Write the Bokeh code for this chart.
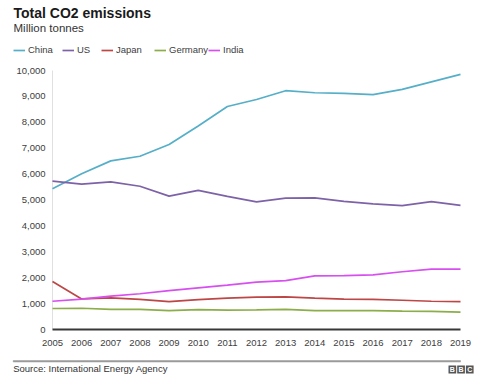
from bokeh.plotting import figure
from bokeh.models import Range1d, Label, Legend, LegendItem, BoxAnnotation
from bokeh.core.properties import value
from bokeh.embed import file_html
from bokeh.resources import INLINE

years = list(range(2005, 2020))
china = [5430, 6010, 6510, 6690, 7140, 7860, 8610, 8880, 9220, 9140, 9120, 9070, 9270, 9560, 9850]
us = [5730, 5610, 5700, 5530, 5150, 5370, 5140, 4930, 5070, 5080, 4950, 4850, 4780, 4940, 4790]
japan = [1850, 1180, 1220, 1160, 1080, 1150, 1210, 1250, 1260, 1210, 1170, 1160, 1130, 1090, 1080]
germany = [810, 820, 780, 780, 730, 770, 750, 760, 780, 730, 730, 730, 710, 700, 670]
india = [1090, 1170, 1290, 1380, 1500, 1610, 1710, 1830, 1890, 2070, 2080, 2110, 2230, 2330, 2330]
y_ticks = [0, 1000, 2000, 3000, 4000, 5000, 6000, 7000, 8000, 9000, 10000]
x_tick_labels = [str(y) for y in years]
y_tick_labels = ["{:,}".format(v) for v in y_ticks]

names = ["China", "US", "Japan", "Germany", "India"]
values = [china, us, japan, germany, india]
colors = ["#55afc8", "#7d62a8", "#bd4746", "#8cae4a", "#d84ff0"]

FONT = "Liberation Sans"
W, H = 490, 383

# pixel anchors of the plotting area (layout only)
X0_PX, X1_PX = 52.0, 460.0      # first / last year
Y0_PX, Y1_PX = 329.0, 70.0      # value 0 / value 10,000 (from top)
kx = (X1_PX - X0_PX) / (years[-1] - years[0])
ky = (Y0_PX - Y1_PX) / (y_ticks[-1] - y_ticks[0])
x_range = Range1d(years[0] - X0_PX / kx, years[-1] + (W - X1_PX) / kx)
y_range = Range1d(y_ticks[0] - (H - Y0_PX) / ky, y_ticks[-1] + Y1_PX / ky)

p = figure(width=W, height=H, output_backend="svg", toolbar_location=None,
           title=None, x_axis_type=None, y_axis_type=None,
           x_range=x_range, y_range=y_range,
           min_border=0, min_border_left=0, min_border_right=0,
           min_border_top=0, min_border_bottom=0)
p.outline_line_color = None
p.grid.visible = False
p.background_fill_color = "white"
p.border_fill_color = "white"

# vertical axis line
p.line(x=[years[0], years[0]], y=[y_ticks[0], y_ticks[-1]], line_color="#e0e0e0", line_width=1)

# data lines
renderers = []
for vals, col in zip(values, colors):
    renderers.append(p.line(years, vals, line_color=col, line_width=1.7))

# baseline axis line
p.line(x=[years[0], years[-1]], y=[y_ticks[0], y_ticks[0]], line_color="#383838", line_width=2)

# tick labels
p.text(x=years, y=[y_ticks[0]] * len(years), text=x_tick_labels, y_offset=13.5,
       text_align="center", text_baseline="middle", text_font=value(FONT),
       text_font_size="9.5px", text_color="#404040")
p.text(x=[years[0]] * len(y_ticks), y=y_ticks, text=y_tick_labels, x_offset=-7,
       text_align="right", text_baseline="middle", text_font=value(FONT),
       text_font_size="9.5px", text_color="#404040")

# title / subtitle (screen units from bottom-left)
p.add_layout(Label(x=13, y=H - 12.8, x_units="screen", y_units="screen",
                   text="Total CO2 emissions", text_font=FONT, text_font_size="14px",
                   text_font_style="bold", text_color="#1a1a1a", text_baseline="middle"))
p.add_layout(Label(x=13, y=H - 27.6, x_units="screen", y_units="screen",
                   text="Million tonnes", text_font=FONT, text_font_size="11.5px",
                   text_color="#333333", text_baseline="middle"))

# legend, one entry each so positions follow the reference
legend_x = [13, 62, 101, 154, 208]
for name, r, lx in zip(names, renderers, legend_x):
    lg = Legend(items=[LegendItem(label=name, renderers=[r])], orientation="horizontal",
                location=(lx, H - 55), padding=0, margin=0, spacing=0,
                glyph_width=12, glyph_height=10, label_standoff=3, label_width=0,
                label_height=10, label_text_font=FONT, label_text_font_size="9.5px",
                label_text_color="#404040", border_line_color=None,
                background_fill_alpha=0)
    p.add_layout(lg)

# footer separator
p.add_layout(BoxAnnotation(left=12.7, right=460, top=H - 360, bottom=H - 361.5,
                           left_units="screen", right_units="screen",
                           top_units="screen", bottom_units="screen",
                           fill_color="#9a9a9a", fill_alpha=1,
                           line_color="#9a9a9a", line_width=0.5, line_alpha=1))
p.add_layout(Label(x=12.7, y=H - 368, x_units="screen", y_units="screen",
                   text="Source: International Energy Agency", text_font=FONT,
                   text_font_size="9.5px", text_color="#333333", text_baseline="middle"))
for i, letter in enumerate(["B", "B", "C"]):
    l = 448 + i * 8.7
    p.add_layout(BoxAnnotation(left=l, right=l + 7.7, top=H - 365, bottom=H - 373,
                               left_units="screen", right_units="screen",
                               top_units="screen", bottom_units="screen",
                               fill_color="#555555", fill_alpha=1, line_color=None))
    p.add_layout(Label(x=l + 3.85, y=H - 369, x_units="screen", y_units="screen",
                       text=letter, text_font=FONT, text_font_size="7px",
                       text_font_style="bold", text_color="white",
                       text_align="center", text_baseline="middle"))

open("out.html", "w").write(file_html(p, INLINE))
